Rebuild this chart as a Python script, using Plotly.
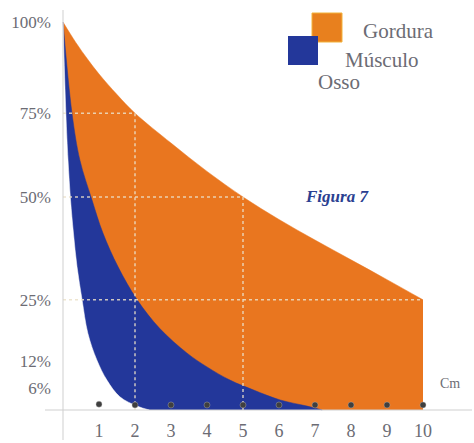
import plotly.graph_objects as go

# ---- data (x in cm, y in chart height units) ----
gordura_x = [0, 0.35, 0.7, 1, 1.5, 2, 3, 4, 5, 6, 7, 8, 9, 10]
gordura_y = [100, 94.8, 90.2, 86.6, 81.3, 76.5, 68.8, 61.5, 54.9, 49.1, 43.8, 38.7, 33.6, 28.4]

musculo_x = [0, 0.25, 0.47, 0.8, 1.11, 1.53, 2.06, 2.69, 3.44, 4.0, 4.64, 5.28, 6.03, 6.78, 7.2]
musculo_y = [100, 76.5, 64.4, 54.3, 45.6, 36.9, 28.4, 21.0, 14.7, 11.1, 7.7, 5.2, 2.6, 1.0, 0]

osso_x = [0, 0.08, 0.14, 0.21, 0.29, 0.39, 0.53, 0.69, 0.94, 1.22, 1.58, 2.06, 2.4]
osso_y = [100, 76.5, 64.4, 54.1, 45.6, 36.9, 28.4, 19.8, 12.9, 7.7, 3.4, 1.0, 0]

dot_x = [1, 2, 3, 4, 5, 6, 7, 8, 9, 10]
dot_y = [1.5, 1.3, 1.3, 1.3, 1.3, 1.3, 1.3, 1.3, 1.3, 1.3]

x_ticks = [1, 2, 3, 4, 5, 6, 7, 8, 9, 10]
y_tick_pos = [100, 76.5, 54.9, 28.4, 12.6, 5.7]
y_tick_text = ["100%", "75%", "50%", "25%", "12%", "6%"]

grid_x = [2, 5, 10]          # where dotted guides meet the Gordura curve
grid_y = [76.5, 54.9, 28.4]

legend_names = ["Gordura", "Músculo", "Osso"]

ORANGE = "#E9761F"
BLUE = "#23379A"
TEXT = "#6c6c74"
FONT = "Liberation Serif"
GUIDE = "rgba(235,225,200,0.85)"

# plot area in pixels
L, R, T, B = 52, 472, 12, 418
W, H = 474, 443
X0PX, XSCALE = 63, 36.0      # pixel of x=0, pixels per cm
Y0PX, YSCALE = 410, 3.88     # pixel of y=0, pixels per unit


def px(xp):
    return (xp - L) / (R - L)


def py(yp):
    return (B - yp) / (B - T)


fig = go.Figure()
for xs, ys, col in [(gordura_x, gordura_y, ORANGE), (musculo_x, musculo_y, BLUE), (osso_x, osso_y, "white")]:
    fig.add_trace(go.Scatter(x=xs, y=ys, mode="lines", fill="tozeroy", fillcolor=col,
                             line=dict(color=col, width=0.5, shape="spline", smoothing=1.0),
                             hoverinfo="skip", showlegend=False))

# dotted guide lines
for gx, gy in zip(grid_x, grid_y):
    fig.add_trace(go.Scatter(x=[0, gx], y=[gy, gy], mode="lines",
                             line=dict(color=GUIDE, width=1.5, dash="dot"),
                             hoverinfo="skip", showlegend=False))
    if gx < 10:
        fig.add_trace(go.Scatter(x=[gx, gx], y=[gy, 0], mode="lines",
                                 line=dict(color=GUIDE, width=1.5, dash="dot"),
                                 hoverinfo="skip", showlegend=False))

fig.add_trace(go.Scatter(x=dot_x, y=dot_y, mode="markers",
                         marker=dict(color="#3f3f3f", size=6, line=dict(color="rgba(180,180,180,0.8)", width=0.5)),
                         hoverinfo="skip", showlegend=False))

shapes = [
    dict(type="line", xref="x", yref="paper", x0=0, x1=0, y0=py(440), y1=py(10),
         line=dict(color="#cfcfcf", width=1)),
    dict(type="line", xref="paper", yref="y", x0=px(45), x1=1.0, y0=0, y1=0,
         line=dict(color="#cfcfcf", width=1)),
    dict(type="rect", xref="paper", yref="paper", x0=px(312), x1=px(342), y0=py(42), y1=py(13),
         fillcolor="#E8801E", line=dict(color="#F2B23A", width=1)),
    dict(type="rect", xref="paper", yref="paper", x0=px(288), x1=px(318), y0=py(65), y1=py(36),
         fillcolor=BLUE, line=dict(color=BLUE, width=0)),
]

annotations = [
    dict(text=legend_names[0], xref="paper", yref="paper", x=px(361), y=py(31), xanchor="left",
         yanchor="middle", showarrow=False, font=dict(family=FONT, size=21, color=TEXT)),
    dict(text=legend_names[1], xref="paper", yref="paper", x=px(343), y=py(60), xanchor="left",
         yanchor="middle", showarrow=False, font=dict(family=FONT, size=21, color=TEXT)),
    dict(text=legend_names[2], xref="paper", yref="paper", x=px(316), y=py(82), xanchor="left",
         yanchor="middle", showarrow=False, font=dict(family=FONT, size=21, color=TEXT)),
    dict(text="<b><i>Figura 7</i></b>", xref="x", yref="y", x=7.61, y=54.9, showarrow=False,
         font=dict(family=FONT, size=17, color="#2b3f91")),
    dict(text="Cm", xref="paper", yref="paper", x=px(462), y=py(393), showarrow=False,
         font=dict(family=FONT, size=14, color=TEXT)),
]

fig.update_layout(
    width=W, height=H,
    margin=dict(l=L, r=W - R, t=T, b=H - B, autoexpand=False),
    paper_bgcolor="white", plot_bgcolor="white",
    shapes=shapes, annotations=annotations,
    xaxis=dict(range=[(L - X0PX) / XSCALE, (R - X0PX) / XSCALE], tickvals=x_ticks, showgrid=False,
               zeroline=False, showline=False, ticks="", automargin=False,
               tickfont=dict(family=FONT, size=18, color=TEXT)),
    yaxis=dict(range=[(Y0PX - B) / YSCALE, (Y0PX - T) / YSCALE], tickvals=y_tick_pos, ticktext=y_tick_text,
               showgrid=False, zeroline=False, showline=False, ticks="", automargin=False,
               tickfont=dict(family=FONT, size=17, color=TEXT)),
)

fig.write_html("out.html", config={"displayModeBar": False},
               post_script="document.body.style.margin='0';document.body.style.padding='0';")
